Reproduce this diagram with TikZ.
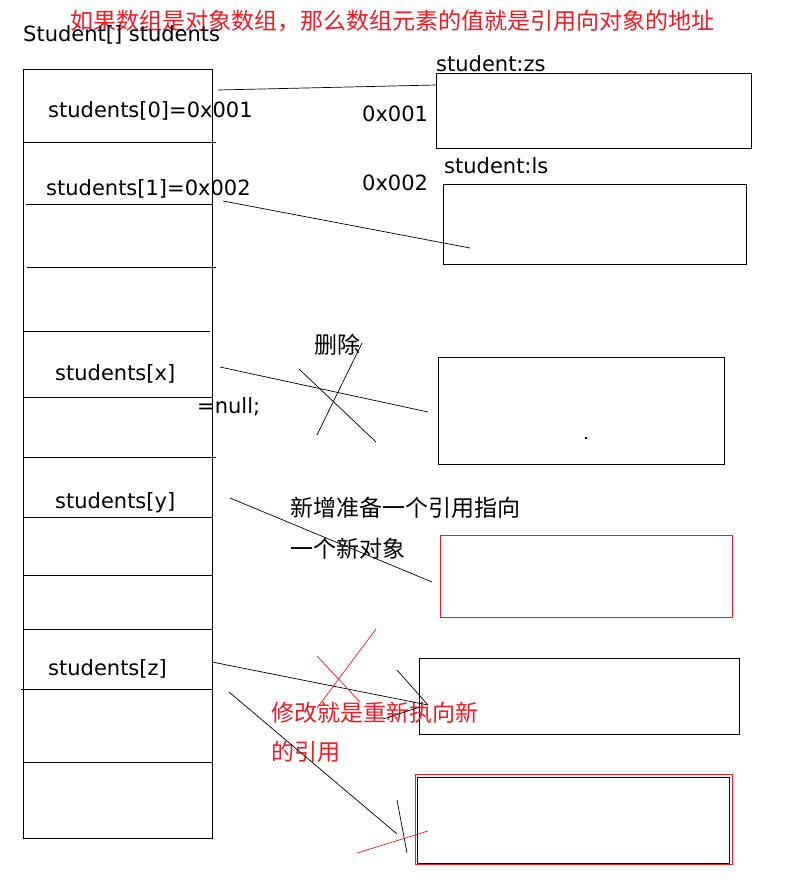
\documentclass[tikz,border=0pt]{standalone}
\usepackage{fontspec}
\setmainfont{DejaVu Sans}
\newfontfamily\cjk{Noto Sans CJK SC}
\definecolor{paintred}{RGB}{237,28,36}

\begin{document}
\begin{tikzpicture}[
    x=1pt, y=-1pt,
    txt/.style={
        inner sep=0pt, anchor=base west, font=\fontsize{21}{25}\selectfont
    },
    zh/.style={
        inner sep=0pt, anchor=base west, font=\cjk\fontsize{23}{27}\selectfont
    },
    obj/.style={
        draw, rectangle, line width=1.2pt, inner sep=0pt, anchor=north west
    },
    cell/.style={line width=1pt},
    ref/.style={line width=.7pt},
    hand/.style={line width=.7pt, paintred},
]
    \useasboundingbox (0,0) rectangle (784,893);

    \node[zh, text=paintred](title) at (70,30)
        {如果数组是对象数组，那么数组元素的值就是引用向对象的地址};
    \node[txt](arrname) at (23,42) {Student[] students};

    % the array
    \node[obj, minimum width=189pt, minimum height=769pt](arr) at (23,69) {};
    \draw[cell] (23,143) -- (216,143);
    \draw[cell] (26,205) -- (212,205);
    \draw[cell] (27,267) -- (216,267);
    \draw[cell] (23,331) -- (210,331);
    \draw[line width=.7pt] (23,397) -- (212,397);
    \draw[cell] (23,457) -- (216,457);
    \draw[cell] (23,517) -- (212,517);
    \draw[cell] (23,575) -- (212,575);
    \draw[cell] (23,629) -- (212,629);
    \draw[cell] (21,689) -- (212,689);
    \draw[cell] (23,762) -- (212,762);

    \node[txt](s0) at (48,118) {students[0]=0x001};
    \node[txt](s1) at (46,196) {students[1]=0x002};
    \node[txt](sx) at (55,380) {students[x]};
    \node[txt](null) at (197,413) {=null;};
    \node[txt](sy) at (55,508) {students[y]};
    \node[txt](sz) at (48,675) {students[z]};

    % the objects
    \node[txt](nzs) at (436,72) {student:zs};
    \node[txt](nls) at (444,174) {student:ls};
    \node[txt](a1) at (362,122) {0x001};
    \node[txt](a2) at (362,191) {0x002};
    \node[obj, minimum width=315pt, minimum height=75pt](zs) at (436,73) {};
    \node[obj, minimum width=303pt, minimum height=80pt](ls) at (443,184) {};
    \node[obj, minimum width=286pt, minimum height=107pt](ox) at (438,357) {};
    \fill (585,437) rectangle (587,439);
    \node[obj, paintred, line width=1pt, minimum width=292pt, minimum height=82pt](oy) at (440,535) {};
    \node[obj, minimum width=320pt, minimum height=76pt](oz) at (419,658) {};
    \node[obj, paintred, line width=1pt, minimum width=317pt, minimum height=90pt](onew) at (415,774) {};
    \node[obj, minimum width=312pt, minimum height=86pt](oold) at (417,777) {};

    \node[zh](del) at (314,353) {删除};
    \node[zh](add1) at (290,516) {新增准备一个引用指向};
    \node[zh](add2) at (290,557) {一个新对象};
    \node[zh, text=paintred](mod1) at (271,721) {修改就是重新执向新};
    \node[zh, text=paintred](mod2) at (271,760) {的引用};

    \coordinate (r0) at (218,90);   \coordinate (t0) at (436,85);
    \coordinate (r1) at (223,201);  \coordinate (t1) at (470,248);
    \coordinate (rx) at (220,367);  \coordinate (tx) at (428,412);
    \coordinate (ry) at (230,498);  \coordinate (ty) at (432,582);
    \coordinate (rz) at (212,662);  \coordinate (tz) at (428,705);
    \coordinate (rn) at (229,692);  \coordinate (tn) at (397,834);

    \draw[ref] (r0) -- (t0);
    \draw[ref] (r1) -- (t1);
    \draw[ref] (rx) -- (tx);
    \draw[ref] (ry) -- (ty);
    \draw[ref] (rz) -- (tz);
    \draw[ref] (rn) -- (tn);

    % crossed out / hand marks
    \draw[ref] (299,369) -- (376,442);
    \draw[ref] (362,343) -- (317,435);
    \draw[ref] (397,670) -- (tz);
    \draw[ref] (383,719) -- (420,707);
    \draw[hand] (376,629) -- (317,708);
    \draw[hand] (317,656) -- (360,702);
    \draw[ref] (397,800) -- (407,853);
    \draw[hand] (357,853) -- (428,831);

\end{tikzpicture}
\end{document}
